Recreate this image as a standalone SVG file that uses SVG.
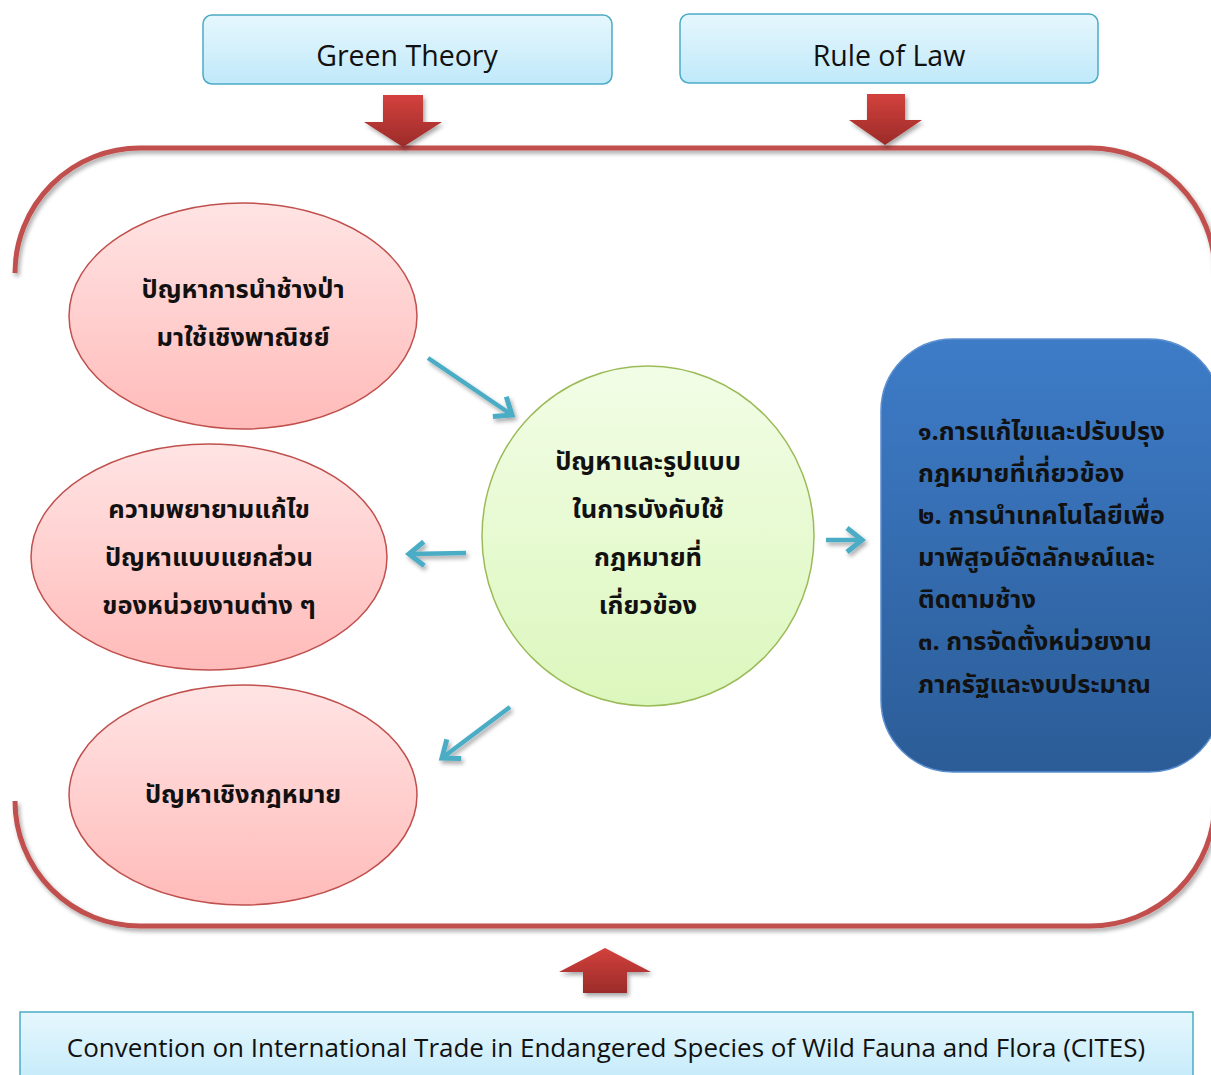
<svg xmlns="http://www.w3.org/2000/svg" width="1211" height="1075" viewBox="0 0 1211 1075">
<defs>
<linearGradient id="gBlueBox" x1="0" y1="0" x2="0" y2="1"><stop offset="0" stop-color="#e6f7fd"/><stop offset="1" stop-color="#c0e9fa"/></linearGradient>
<linearGradient id="gPink" x1="0" y1="0" x2="0" y2="1"><stop offset="0" stop-color="#ffe4e4"/><stop offset="1" stop-color="#ffbbb9"/></linearGradient>
<linearGradient id="gGreen" x1="0" y1="0" x2="0" y2="1"><stop offset="0" stop-color="#f2fde6"/><stop offset="1" stop-color="#dcf7bd"/></linearGradient>
<linearGradient id="gDark" x1="0" y1="0" x2="0" y2="1"><stop offset="0" stop-color="#3e7cc8"/><stop offset="1" stop-color="#2b5c97"/></linearGradient>
<linearGradient id="gRed" x1="0" y1="0" x2="0" y2="1"><stop offset="0" stop-color="#d3413d"/><stop offset="1" stop-color="#9b2b29"/></linearGradient>
<filter id="sh" x="-10%" y="-10%" width="120%" height="130%"><feDropShadow dx="2" dy="3" stdDeviation="2" flood-color="#000" flood-opacity="0.35"/></filter>
<marker id="ah" markerUnits="userSpaceOnUse" markerWidth="24" markerHeight="30" viewBox="0 0 24 30" refX="19" refY="15" orient="auto"><path d="M4,3 L19,15 L4,27" fill="none" stroke="#4bacc6" stroke-width="5" stroke-linejoin="miter"/></marker>
</defs>
<style>
.top{fill:url(#gBlueBox);stroke:#4bacc6;stroke-width:1.5}
.en{font-family:"Open Sans","Noto Sans","DejaVu Sans",sans-serif;font-size:28.5px;font-weight:500;fill:#111;text-anchor:middle}
.cites{font-size:26px}
.th{font-family:"Noto Sans Thai","Noto Sans Thai UI","Loma","Garuda","Tlwg Typo","Sarabun","Noto Sans",sans-serif;font-size:25.5px;font-weight:bold;fill:#111;text-anchor:middle}
.thl{text-anchor:start}
.pink{fill:url(#gPink);stroke:#c0504d;stroke-width:1.5}
.conn{stroke:#4bacc6;stroke-width:4.5;fill:none;marker-end:url(#ah)}
.red{fill:url(#gRed);filter:url(#sh)}
</style>

<g id="frame" filter="url(#sh)">
<path d="M15,273 A125,125 0 0 1 140,148 L1090,148 A125,125 0 0 1 1215,273" fill="none" stroke="#c0504d" stroke-width="5"/>
<path d="M15,801 A125,125 0 0 0 140,926 L1090,926 A125,125 0 0 0 1215,801" fill="none" stroke="#c0504d" stroke-width="5"/>
</g>

<g id="green-theory">
<rect class="top" x="203" y="15" width="409" height="69" rx="9"/>
<text class="en" x="407" y="66">Green Theory</text>
</g>
<g id="rule-of-law">
<rect class="top" x="680" y="14" width="418" height="69" rx="9"/>
<text class="en" x="889" y="66">Rule of Law</text>
</g>

<g id="arrow-green" class="red"><polygon points="383,95 423,95 423,122 442,122 403,147 364,122 383,122"/></g>
<g id="arrow-rule" class="red"><polygon points="867,94 905,94 905,120 922,120 885,145 849,120 867,120"/></g>

<g id="n-commercial">
<ellipse class="pink" cx="243" cy="316" rx="174" ry="113"/>
<text class="th" x="243" y="298">ปัญหาการนำช้างป่า</text>
<text class="th" x="243" y="346">มาใช้เชิงพาณิชย์</text>
</g>
<g id="n-separate">
<ellipse class="pink" cx="209" cy="557" rx="178" ry="113"/>
<text class="th" x="209" y="518">ความพยายามแก้ไข</text>
<text class="th" x="209" y="566">ปัญหาแบบแยกส่วน</text>
<text class="th" x="209" y="614">ของหน่วยงานต่าง ๆ</text>
</g>
<g id="n-legal">
<ellipse class="pink" cx="243" cy="795" rx="174" ry="110"/>
<text class="th" x="243" y="803">ปัญหาเชิงกฎหมาย</text>
</g>

<g id="n-center">
<ellipse cx="648" cy="536" rx="166" ry="170" fill="url(#gGreen)" stroke="#9bbb59" stroke-width="1.5"/>
<text class="th" x="648" y="470">ปัญหาและรูปแบบ</text>
<text class="th" x="648" y="518">ในการบังคับใช้</text>
<text class="th" x="648" y="566">กฎหมายที่</text>
<text class="th" x="648" y="614">เกี่ยวข้อง</text>
</g>

<g id="n-solutions">
<rect x="881" y="339" width="340" height="433" rx="72" fill="url(#gDark)" stroke="#5b8fd0" stroke-width="1.5"/>
<text class="th thl" x="918" y="440">๑.การแก้ไขและปรับปรุง</text>
<text class="th thl" x="918" y="482">กฎหมายที่เกี่ยวข้อง</text>
<text class="th thl" x="918" y="524">๒. การนำเทคโนโลยีเพื่อ</text>
<text class="th thl" x="918" y="566">มาพิสูจน์อัตลักษณ์และ</text>
<text class="th thl" x="918" y="608">ติดตามช้าง</text>
<text class="th thl" x="918" y="650">๓. การจัดตั้งหน่วยงาน</text>
<text class="th thl" x="918" y="693">ภาครัฐและงบประมาณ</text>
</g>

<g id="connectors" filter="url(#sh)">
<line class="conn" x1="428" y1="358" x2="512" y2="415"/>
<line class="conn" x1="466" y1="553" x2="409" y2="554"/>
<line class="conn" x1="510" y1="707" x2="442" y2="758"/>
<line class="conn" x1="826" y1="540" x2="862" y2="540"/>
</g>

<g id="arrow-cites" class="red"><polygon points="605,948 651,972 627,972 627,993 583,993 583,972 559,972"/></g>

<g id="n-cites">
<rect x="20" y="1012" width="1173" height="80" fill="url(#gBlueBox)" stroke="#4bacc6" stroke-width="1.5"/>
<text class="en cites" x="606" y="1057">Convention on International Trade in Endangered Species of Wild Fauna and Flora (CITES)</text>
</g>
</svg>
